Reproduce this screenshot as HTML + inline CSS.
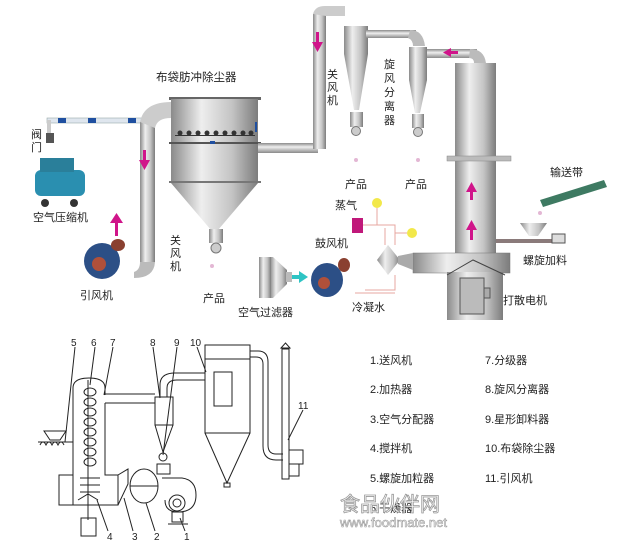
<!DOCTYPE html>
<html><head><meta charset="utf-8"><style>
html,body{margin:0;padding:0;background:#fff;}
svg{display:block;}
text{font-family:"Liberation Sans","Noto Sans CJK SC",sans-serif;fill:#222;}
</style></head><body>
<svg width="631" height="547" viewBox="0 0 631 547" xmlns="http://www.w3.org/2000/svg">
<defs>
<linearGradient id="m" x1="0" x2="1" y1="0" y2="0">
<stop offset="0" stop-color="#8a8a8a"/><stop offset="0.35" stop-color="#eeeeee"/><stop offset="0.7" stop-color="#c4c4c4"/><stop offset="1" stop-color="#7c7c7c"/></linearGradient>
<linearGradient id="mv" x1="0" x2="0" y1="0" y2="1">
<stop offset="0" stop-color="#8a8a8a"/><stop offset="0.4" stop-color="#eeeeee"/><stop offset="1" stop-color="#8a8a8a"/></linearGradient>
</defs>

<!-- TOP SECTION -->
<!-- left air line -->
<rect x="47" y="118" width="100" height="5" fill="#dfe6ee" stroke="#9aa" stroke-width="0.6"/>
<rect x="58" y="118" width="8" height="5" fill="#1f4fa0"/><rect x="88" y="118" width="8" height="5" fill="#1f4fa0"/><rect x="128" y="118" width="8" height="5" fill="#1f4fa0"/>
<rect x="47" y="120" width="4" height="16" fill="#ccc"/>
<rect x="46" y="133" width="8" height="10" fill="#555"/>
<text x="31" y="138" font-size="11">阀</text><text x="31" y="151" font-size="11">门</text>
<!-- compressor -->
<rect x="35" y="170" width="50" height="26" rx="6" fill="#2a8fb0"/>
<rect x="40" y="158" width="34" height="14" fill="#2a7f9a"/>
<circle cx="45" cy="203" r="4" fill="#333"/><circle cx="74" cy="203" r="4" fill="#333"/>
<text x="33" y="221" font-size="11">空气压缩机</text>
<!-- arrow -->
<rect x="115" y="222" width="3" height="14" fill="#d0158a"/><polygon points="110,223 116.5,213 123,223" fill="#d0158a"/>
<!-- induced fan -->
<ellipse cx="102" cy="261" rx="18" ry="18" fill="#2c4f86"/><circle cx="99" cy="264" r="7" fill="#b0503a"/><ellipse cx="118" cy="245" rx="7" ry="6" fill="#8a4030"/>
<text x="80" y="299" font-size="11">引风机</text>
<!-- vertical pipe left -->
<path d="M147 120 q0 0 0 0" />
<rect x="140" y="122" width="15" height="140" fill="url(#m)"/>
<path d="M140 262 q0 8 -6 10 l0 6 q20 0 21-16z" fill="#bbb"/>
<path d="M140 122 q4 -20 31 -20 l0 16 q-14 0 -16 10z" fill="#ccc"/>
<rect x="143" y="150" width="3" height="12" fill="#d0158a"/><polygon points="139,160 144.5,170 150,160" fill="#d0158a"/>
<!-- baghouse -->
<text x="156" y="81" font-size="11.5">布袋肪冲除尘器</text>
<rect x="169" y="97" width="92" height="3" fill="#666"/>
<rect x="171" y="99" width="87" height="83" fill="url(#m)"/>
<rect x="169" y="142" width="92" height="2" fill="#555"/>
<g fill="#333"><circle cx="180" cy="133" r="2.5"/><circle cx="189" cy="133" r="2.5"/><circle cx="198" cy="133" r="2.5"/><circle cx="207" cy="133" r="2.5"/><circle cx="216" cy="133" r="2.5"/><circle cx="225" cy="133" r="2.5"/><circle cx="234" cy="133" r="2.5"/><circle cx="243" cy="133" r="2.5"/><circle cx="251" cy="133" r="2.5"/></g>
<rect x="175" y="135" width="80" height="1" fill="#333"/>
<rect x="255" y="122" width="2" height="10" fill="#1f4fa0"/><rect x="210" y="141" width="5" height="3" fill="#1f4fa0"/>
<rect x="169" y="181" width="92" height="2" fill="#777"/>
<polygon points="171,183 258,183 218,230 211,230" fill="url(#m)"/>
<rect x="209" y="229" width="14" height="14" fill="url(#m)"/><circle cx="216" cy="248" r="5" fill="#ccc" stroke="#777"/>
<text x="170" y="244" font-size="11">关</text><text x="170" y="257" font-size="11">风</text><text x="170" y="270" font-size="11">机</text>
<text x="203" y="302" font-size="11">产品</text>
<!-- pipe from baghouse to cyclones -->
<rect x="258" y="143" width="60" height="10" fill="url(#mv)"/>
<rect x="313" y="14" width="13" height="135" fill="url(#m)"/>
<path d="M313 14 q2 -8 12 -8 l20 0 l0 10 l-19 0z" fill="#ccc"/>
<rect x="316" y="32" width="3" height="12" fill="#d0158a"/><polygon points="312,42 317.5,52 323,42" fill="#d0158a"/>
<!-- cyclone1 -->
<rect x="344" y="26" width="24" height="28" fill="url(#m)"/>
<polygon points="344,54 368,54 359,110 354,110" fill="url(#m)"/>
<rect x="350" y="112" width="13" height="15" fill="url(#m)"/><circle cx="356" cy="131" r="4.5" fill="#ccc" stroke="#777"/>
<text x="327" y="78" font-size="11">关</text><text x="327" y="91" font-size="11">风</text><text x="327" y="104" font-size="11">机</text>
<text x="345" y="188" font-size="11">产品</text>
<!-- connecting pipe -->
<rect x="366" y="30" width="50" height="8" fill="url(#mv)"/>
<path d="M410 30 q13 0 15 16 l-12 0 q0 -6 -5 -8z" fill="#bbb"/>
<!-- cyclone2 -->
<rect x="409" y="47" width="18" height="33" fill="url(#m)"/>
<polygon points="409,80 427,80 420,113 415,113" fill="url(#m)"/>
<rect x="412" y="114" width="12" height="14" fill="url(#m)"/><circle cx="418" cy="132" r="4.5" fill="#ccc" stroke="#777"/>
<text x="384" y="68" font-size="11">旋</text><text x="384" y="82" font-size="11">风</text><text x="384" y="96" font-size="11">分</text><text x="384" y="110" font-size="11">离</text><text x="384" y="124" font-size="11">器</text>
<text x="405" y="188" font-size="11">产品</text>
<!-- pipe tower to cyclone2 -->
<rect x="427" y="49" width="50" height="9" fill="url(#mv)"/>
<path d="M470 49 q14 0 16 14 l-12 0 q0 -5 -5 -5z" fill="#bbb"/>
<rect x="450" y="51" width="8" height="3" fill="#d0158a"/><polygon points="451,48 443,52.5 451,57" fill="#d0158a"/>
<!-- tower -->
<rect x="455" y="63" width="41" height="192" fill="url(#m)"/>
<rect x="447" y="156" width="64" height="5" fill="#bbb" stroke="#888" stroke-width="0.5"/>
<rect x="470" y="190" width="3" height="10" fill="#d0158a"/><polygon points="466,192 471.5,182 477,192" fill="#d0158a"/>
<rect x="470" y="228" width="3" height="12" fill="#d0158a"/><polygon points="466,230 471.5,220 477,230" fill="#d0158a"/>
<rect x="413" y="253" width="97" height="20" fill="url(#m)" stroke="#777" stroke-width="0.5"/>
<rect x="447" y="272" width="56" height="48" fill="url(#m)"/>
<polyline points="447,275 473,260 505,275" fill="none" stroke="#444" stroke-width="1"/>
<rect x="460" y="278" width="24" height="36" fill="#bbb" stroke="#555"/>
<rect x="484" y="288" width="6" height="10" fill="#aaa" stroke="#555"/>
<text x="503" y="304" font-size="11">打散电机</text>
<!-- screw feeder -->
<rect x="496" y="239" width="62" height="4" fill="#8a7a7a"/>
<polygon points="520,223 547,223 538,236 529,236" fill="url(#m)"/>
<rect x="552" y="234" width="13" height="9" fill="#ddd" stroke="#555"/>
<text x="523" y="264" font-size="11">螺旋加料</text>
<!-- conveyor -->
<polygon points="540,200 604,180 607,187 543,207" fill="#3e7a62"/>
<text x="550" y="176" font-size="11">输送带</text>
<!-- steam / heater -->
<text x="335" y="209" font-size="11">蒸气</text>
<rect x="352" y="218" width="11" height="15" fill="#c0187a"/>
<circle cx="377" cy="203" r="5" fill="#f2e84a"/><circle cx="412" cy="233" r="5" fill="#f2e84a"/>
<g stroke="#e7a7a0" stroke-width="1" fill="none"><path d="M363 225 L395 225 L395 245"/><path d="M385 228 L385 245"/><path d="M377 208 L377 225"/><path d="M395 233 L407 233"/><path d="M365 290 L395 290 L395 275"/><path d="M355 293 L395 293"/></g>
<polygon points="388,245 400,260 388,275 377,260" fill="url(#m)"/>
<polygon points="398,256 413,253 413,270 398,264" fill="#aaa"/>
<text x="352" y="311" font-size="11">冷凝水</text>
<!-- blower -->
<text x="315" y="247" font-size="11">鼓风机</text>
<ellipse cx="327" cy="280" rx="16" ry="17" fill="#2c4f86"/><circle cx="324" cy="283" r="6" fill="#b0503a"/><ellipse cx="344" cy="265" rx="6" ry="7" fill="#8a4030"/>
<rect x="292" y="275" width="8" height="4" fill="#2ec4c4"/><polygon points="299,271 308,277 299,283" fill="#2ec4c4"/>
<!-- filter -->
<polygon points="270,257 273,257 287,270 287,284 273,298 270,298" fill="url(#m)"/>
<rect x="259" y="257" width="12" height="41" fill="url(#m)"/>
<rect x="286" y="272" width="6" height="10" fill="#bbb"/>
<text x="238" y="316" font-size="11">空气过滤器</text>
<!-- product dots -->
<g fill="#e3b7d4"><circle cx="212" cy="266" r="2"/><circle cx="356" cy="160" r="2"/><circle cx="418" cy="160" r="2"/><circle cx="540" cy="213" r="2"/></g>

<!-- BOTTOM LINE DRAWING -->
<g fill="none" stroke="#222" stroke-width="1">
<path d="M73 505 L73 388 Q73 378 89 378 Q105 378 105 388 L105 395"/>
<path d="M105 403 L105 475 L118 475 L118 505 L73 505"/>
<path d="M73 475 L59 475 L59 505 L73 505"/>
<path d="M118 475 L128 469 L128 484 L118 505"/>
<path d="M105 394 L155 394 M105 403 L155 403"/>
<line x1="88" y1="380" x2="88" y2="520"/>
<g><ellipse cx="90" cy="392" rx="6" ry="4"/><ellipse cx="90" cy="402" rx="6" ry="4"/><ellipse cx="90" cy="412" rx="6" ry="4"/><ellipse cx="90" cy="422" rx="6" ry="4"/><ellipse cx="90" cy="432" rx="6" ry="4"/><ellipse cx="90" cy="442" rx="6" ry="4"/><ellipse cx="90" cy="452" rx="6" ry="4"/><ellipse cx="90" cy="462" rx="6" ry="4"/></g>
<path d="M80 478 L100 478 M80 485 L100 485 M80 492 L100 492"/>
<path d="M78 500 L88 494 L98 500"/>
<rect x="81" y="518" width="15" height="18"/>
<path d="M38 442 L73 442 M44 431 L66 431 L60 440 L50 440 Z"/>
<path d="M40 445 q3 -6 6 0 q3 -6 6 0 q3 -6 6 0 q3 -6 6 0"/>
<ellipse cx="144" cy="486" rx="14" ry="17"/>
<line x1="130" y1="486" x2="158" y2="486"/>
<path d="M162 478 L182 478 Q196 480 196 495 Q196 512 178 512 Q165 512 165 500"/>
<circle cx="177" cy="503" r="8"/><circle cx="177" cy="503" r="4"/>
<rect x="172" y="512" width="11" height="10"/><line x1="168" y1="524" x2="188" y2="524"/>
<path d="M155 397 L173 397 L173 425 L155 425 Z"/>
<path d="M155 425 L163 452 L173 425"/>
<circle cx="163" cy="457" r="4"/>
<rect x="157" y="464" width="13" height="10"/>
<path d="M160 397 L160 385 Q160 373 175 373 L205 373 M167 397 L167 388 Q167 380 177 380 L205 380"/>
<rect x="205" y="345" width="45" height="88"/>
<line x1="205" y1="359" x2="250" y2="359"/>
<rect x="214" y="372" width="18" height="34"/>
<path d="M205 433 L227 483 L250 433"/>
<rect x="224" y="483" width="6" height="4"/>
<path d="M250 351 L258 351 Q268 351 268 362 L268 445 Q268 454 276 454 L283 454"/>
<path d="M250 357 L256 357 Q263 357 263 364 L263 446 Q263 460 276 460 L283 460"/>
<rect x="282" y="349" width="7" height="130"/>
<path d="M281 348 L285.5 343 L290 348 Z"/>
<rect x="289" y="450" width="14" height="14"/>
<rect x="289" y="464" width="10" height="12"/>
<line x1="75" y1="347" x2="65" y2="442"/><line x1="95" y1="347" x2="90" y2="385"/><line x1="113" y1="347" x2="104" y2="395"/>
<line x1="153" y1="347" x2="160" y2="398"/><line x1="177" y1="347" x2="163" y2="455"/><line x1="197" y1="347" x2="206" y2="372"/>
<line x1="303" y1="410" x2="288" y2="440"/>
<line x1="108" y1="531" x2="97" y2="500"/><line x1="133" y1="531" x2="124" y2="498"/><line x1="155" y1="531" x2="146" y2="503"/><line x1="185" y1="531" x2="180" y2="518"/>
</g>
<g font-size="10" font-family="Liberation Sans, sans-serif">
<text x="71" y="346">5</text><text x="91" y="346">6</text><text x="110" y="346">7</text>
<text x="150" y="346">8</text><text x="174" y="346">9</text><text x="190" y="346">10</text>
<text x="298" y="409">11</text>
<text x="107" y="540">4</text><text x="132" y="540">3</text><text x="154" y="540">2</text><text x="184" y="540">1</text>
</g>
<!-- legend -->
<g font-size="11">
<text x="370" y="364">1.送风机</text><text x="485" y="364">7.分级器</text>
<text x="370" y="393">2.加热器</text><text x="485" y="393">8.旋风分离器</text>
<text x="370" y="423">3.空气分配器</text><text x="485" y="423">9.星形卸料器</text>
<text x="370" y="452">4.搅拌机</text><text x="485" y="452">10.布袋除尘器</text>
<text x="370" y="482">5.螺旋加粒器</text><text x="485" y="482">11.引风机</text>
<text x="370" y="512">6.干燥器</text>
</g>
<text x="340" y="511" font-size="20" style="fill:#fff;stroke:#999;stroke-width:0.8">食品伙伴网</text>
<text x="340" y="527" font-size="13" style="fill:#fff;stroke:#999;stroke-width:0.6">www.foodmate.net</text>
</svg>
</body></html>
